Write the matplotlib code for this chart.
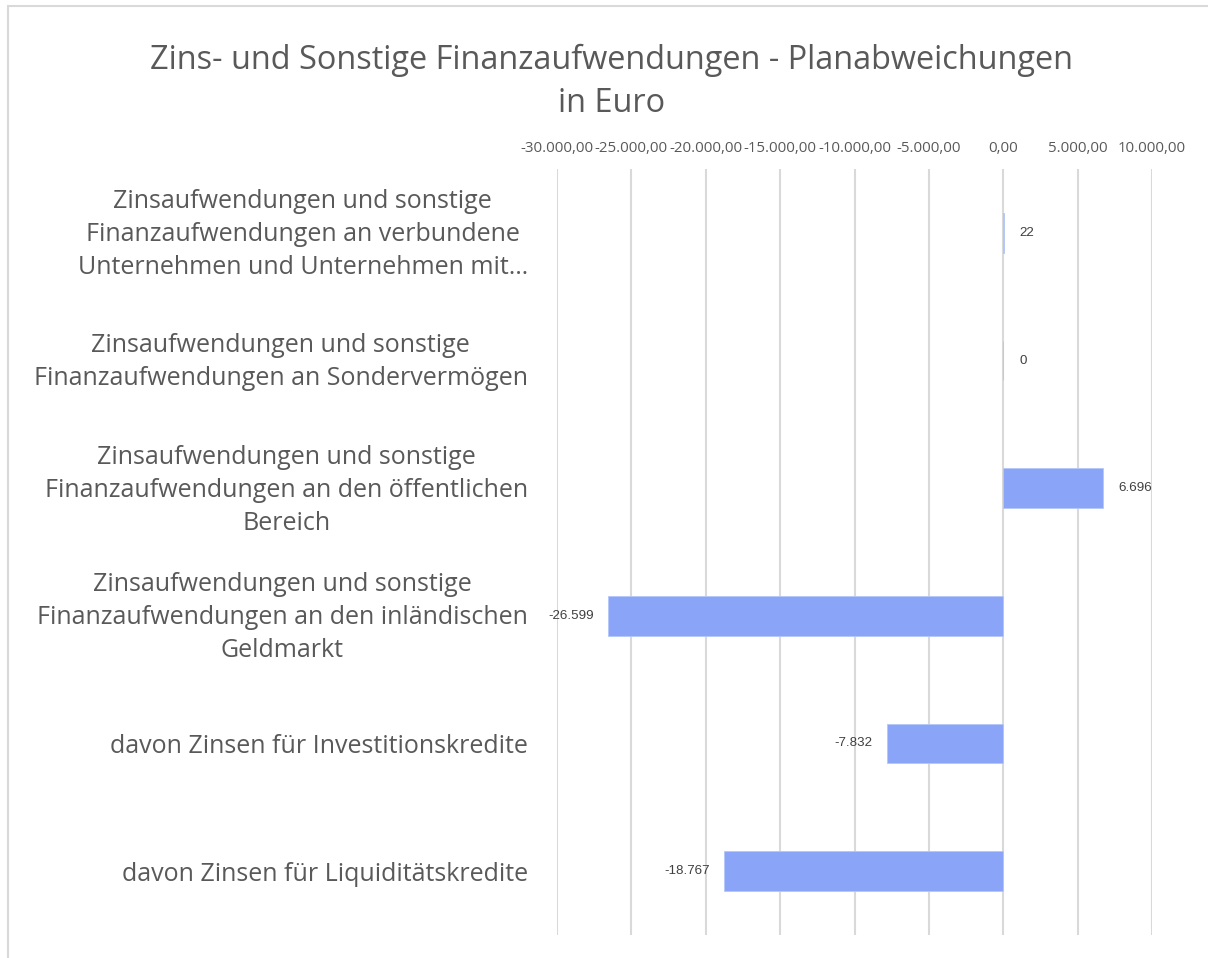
import matplotlib
matplotlib.use("Agg")
import matplotlib.pyplot as plt
from matplotlib.patches import Rectangle
from matplotlib.transforms import ScaledTranslation

categories = [
    "Zinsaufwendungen und sonstige\nFinanzaufwendungen an verbundene\nUnternehmen und Unternehmen mit…",
    "Zinsaufwendungen und sonstige\nFinanzaufwendungen an Sondervermögen",
    "Zinsaufwendungen und sonstige\nFinanzaufwendungen an den öffentlichen\nBereich",
    "Zinsaufwendungen und sonstige\nFinanzaufwendungen an den inländischen\nGeldmarkt",
    "davon Zinsen für Investitionskredite",
    "davon Zinsen für Liquiditätskredite",
]
values = [22, 0, 6696, -26599, -7832, -18767]
xticks = [-30000, -25000, -20000, -15000, -10000, -5000, 0, 5000, 10000]
xtick_labels = ["-30.000,00", "-25.000,00", "-20.000,00", "-15.000,00", "-10.000,00",
                "-5.000,00", "0,00", "5.000,00", "10.000,00"]
title = "Zins- und Sonstige Finanzaufwendungen - Planabweichungen\nin Euro"

W, H = 1208, 958
fig = plt.figure(figsize=(W / 100, H / 100), dpi=100)
fig.patch.set_facecolor("white")

# outer chart border (cropped at right and bottom)
fig.add_artist(Rectangle((8 / W, -0.1), 1.2, 1.1 - 6 / H, transform=fig.transFigure,
                         fill=False, edgecolor="#D9D9D9", linewidth=1.5))

ax = fig.add_axes([557 / W, 1 - 935 / H, 595 / W, 766 / H])
ypos = list(range(len(categories)))
ax.barh(ypos, values, height=0.31, color="#8AA5F8", edgecolor="#B4C6FA", linewidth=0.6, zorder=3)
ax.set_xlim(-30000, 10000)
ax.set_ylim(len(categories) - 0.5, -0.5)

ax.xaxis.tick_top()
ax.set_xticks(xticks)
ax.set_xticklabels(xtick_labels, fontsize=10.8, color="#595959", family="Open Sans")
ax.tick_params(axis="x", length=0, pad=9)
ax.set_yticks(ypos)
ax.set_yticklabels(categories, fontsize=18, color="#595959", family="Open Sans",
                   multialignment="center", linespacing=1.42)
ax.tick_params(axis="y", length=0, pad=21)
shift = ScaledTranslation(0, 5 / 100, fig.dpi_scale_trans)
for lbl in ax.get_yticklabels():
    if "\n" in lbl.get_text():
        lbl.set_transform(lbl.get_transform() + shift)
for s in ax.spines.values():
    s.set_visible(False)
ax.grid(axis="x", color="#D9D9D9", linewidth=1.5, zorder=0)
ax.set_axisbelow(True)

def fmt(v):
    return f"{v:,}".replace(",", ".")

for y, v in zip(ypos, values):
    if v >= 0:
        ax.annotate(fmt(v), (v, y), xytext=(11.5, 0), textcoords="offset points",
                    ha="left", va="center", fontsize=9.6, color="#404040", family="Liberation Sans")
    else:
        ax.annotate(fmt(v), (v, y), xytext=(-10, 0), textcoords="offset points",
                    ha="right", va="center", fontsize=9.6, color="#404040", family="Liberation Sans")

fig.text(612 / W, 1 - 82 / H, title, ha="center", va="center", fontsize=23.4,
         color="#595959", family="Open Sans", linespacing=1.42)

fig.savefig("out.png", dpi=100)
